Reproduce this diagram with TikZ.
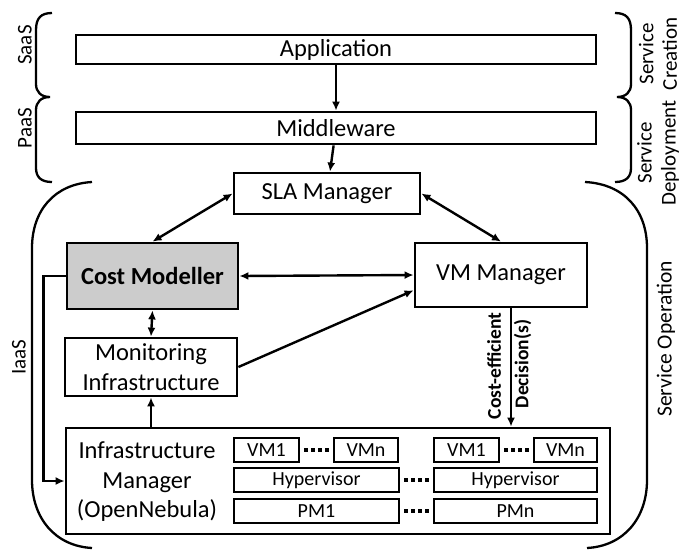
\documentclass[tikz,border=0pt]{standalone}
\usepackage{fontspec}
\setmainfont{Carlito}
\usetikzlibrary{arrows.meta,calc}

\begin{document}
\begin{tikzpicture}[x=1pt,y=-1pt,
  blk/.style={draw, line width=2.8pt, inner sep=0pt, align=center,
    font=\fontsize{24.5}{29.5}\selectfont},
  sub/.style={draw, line width=2.8pt, inner sep=0pt, minimum height=24pt,
    font=\fontsize{20}{24}\selectfont},
  arr/.style={line width=2.4pt, -{Latex[length=9pt,width=8pt]}},
  darr/.style={line width=2.4pt, {Latex[length=9pt,width=8pt]}-{Latex[length=9pt,width=8pt]}},
  bracket/.style={line width=2.3pt},
  side/.style={rotate=90, align=center, inner sep=0pt},
  declabel/.style={rotate=90, inner sep=0pt, font=\fontsize{19.5}{22}\selectfont\bfseries},
  dot/.style={fill=black}
]
\fill[white] (0,0) rectangle (684,550);
\useasboundingbox (0,0) rectangle (684,550);

% service layers
\node[blk, minimum width=520pt, minimum height=29pt] (app) at (336,49.5) {Application};
\node[blk, minimum width=520pt, minimum height=32pt] (mid) at (336,128) {Middleware};

% IaaS components
\node[blk, minimum width=186pt, minimum height=41pt] (sla) at (327,193.5) {SLA Manager};
\node[blk, fill=black!20, minimum width=171pt, minimum height=66pt,
  font=\fontsize{24.5}{29.5}\selectfont\bfseries] (cost) at (152.5,276) {Cost Modeller};
\node[blk, minimum width=172pt, minimum height=64pt] (vm) at (501,275) {VM Manager};
\node[blk, minimum width=172pt, minimum height=58pt] (mon) at (151,367) {Monitoring\\Infrastructure};

% infrastructure manager and its hosts
\node[draw, line width=2.8pt, inner sep=0pt, minimum width=544pt, minimum height=106pt] (infra) at (338,481) {};
\node[align=center, inner sep=0pt, font=\fontsize{24.5}{29.5}\selectfont] (infratxt) at (147,482)
  {Infrastructure\\Manager\\(OpenNebula)};

\node[sub, minimum width=65pt] (vma1) at (266.5,450) {VM1};
\node[sub, minimum width=64pt] (vmn1) at (366,450) {VMn};
\node[sub, minimum width=65pt] (vma2) at (466.5,450) {VM1};
\node[sub, minimum width=63pt] (vmn2) at (565.5,450) {VMn};
\node[sub, minimum width=165pt] (hyp1) at (316.5,480) {Hypervisor};
\node[sub, minimum width=163pt] (hyp2) at (515.5,480) {Hypervisor};
\node[sub, minimum width=165pt] (pm1) at (316.5,511) {PM1};
\node[sub, minimum width=163pt] (pm2) at (515.5,511) {PMn};

% ellipsis dots
\foreach \cx/\cy in {316.5/450, 516.5/450, 416.5/480, 416.5/511}
  \foreach \d in {-10.5,-3.5,3.5,10.5}
    \fill[dot] (\cx+\d-1.6,\cy-1.6) rectangle (\cx+\d+1.6,\cy+1.6);

% connectors
\draw[arr] (app) -- (mid);
\draw[arr] (mid) -- (sla);
\draw[darr] (sla.west) -- (cost.north);
\draw[darr] (sla.east) -- (vm.north);
\draw[darr] (cost.east) -- (vm.west);
\draw[darr] (cost.south) -- (mon.north);
\coordinate (vmin) at ($(vm.north west)!0.73!(vm.south west)$);
\draw[arr] (mon.east) -- (vmin);
\draw[arr] (infra.north -| mon.south) -- (mon.south);
\draw[arr] (cost.west) -- ++(-22,0) |- (infra.west);
\coordinate (dtop) at ($(vm.south)+(10,0)$);
\draw[arr] (dtop) -- (dtop |- infra.north);
\node[declabel] (ce) at (494,366) {Cost-efficient};
\node[declabel] (dec) at (522.5,364) {Decision(s)};

% SaaS / PaaS bracket on the left
\draw[bracket] (52,13) .. controls (41,13) and (36,18) .. (36,30) -- (36,84)
  .. controls (36,92) and (41,97) .. (50,97)
  .. controls (41,97) and (36,102) .. (36,110) -- (36,168)
  .. controls (36,177) and (41,182) .. (52,182);
% service creation / deployment bracket on the right
\draw[bracket] (615,13) .. controls (626,13) and (631,18) .. (631,30) -- (631,84)
  .. controls (631,92) and (626,97) .. (617,97)
  .. controls (626,97) and (631,102) .. (631,110) -- (631,168)
  .. controls (631,177) and (626,182) .. (615,182);
% IaaS region
\draw[bracket] (92,182) .. controls (55,184) and (32,210) .. (32,248) -- (32,480)
  .. controls (32,518) and (55,546) .. (92,548);
\draw[bracket] (585,182) .. controls (624,184) and (647,210) .. (647,248) -- (647,480)
  .. controls (647,518) and (624,546) .. (587,548);

% layer labels
\node[side, font=\fontsize{21}{24}\selectfont] (saas) at (25,45) {SaaS};
\node[side, font=\fontsize{21}{24}\selectfont] (paas) at (25,128) {PaaS};
\node[side, font=\fontsize{21}{24}\selectfont] (iaas) at (19,357) {IaaS};
\node[side, font=\fontsize{21}{23.5}\selectfont] (screate) at (658,54) {Service\\Creation};
\node[side, font=\fontsize{21}{24}\selectfont] (sdeploy) at (658,153) {Service\\Deployment};
\node[side, font=\fontsize{21.5}{24}\selectfont] (sop) at (666,339) {Service Operation};
\end{tikzpicture}
\end{document}
